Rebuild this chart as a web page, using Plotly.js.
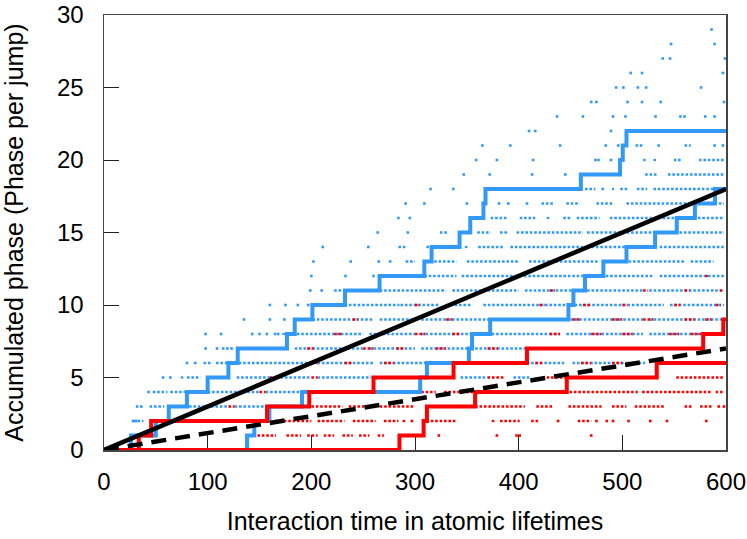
<!DOCTYPE html>
<html><head><meta charset="utf-8">
<script src="https://cdn.plot.ly/plotly-3.0.1.min.js"></script>
<style>body{margin:0;background:#fff}#chart{width:747px;height:539px}</style>
</head><body><div id="chart"></div>
<script>
// ---- scattered sample points: per phase level (index = level), runs are [start,end,...] pairs, pts are single x ----
const blueRuns = [
  [],
  [28,33],
  [28,38],
  [44,58, 82,120, 126,157],
  [47,61, 64,78, 100,150, 156,190],
  [74,78, 80,93, 128,160, 166,200, 206,258, 344,370, 395,411],
  [96,104, 108,120, 130,200, 206,260, 266,311, 412,444, 452,522],
  [184,250, 256,300, 306,351, 358,406],
  [172,176, 186,250, 256,300, 306,354, 374,440, 446,520, 526,598],
  [201,260, 266,300, 306,372, 450,520, 526,598],
  [232,285, 286,324, 334,355, 366,446, 454,540, 546,598],
  [222,232, 266,330, 336,400, 406,452, 466,520, 526,598],
  [275,340, 345,400, 405,462, 484,530, 536,598],
  [291,300, 310,340, 350,400, 410,478, 506,560, 566,588],
  [284,292, 311,316, 348,351, 361,386, 392,462, 466,503, 536,598],
  [324,331, 360,373, 382,389, 398,462, 466,598],
  [373,389, 401,416, 427,430, 443,450, 456,478, 488,598],
  [422,434, 446,459, 475,491, 504,598],
  [464,474, 490,492, 498,506, 514,524, 530,588],
  [522,534, 544,598],
  [520,524, 530,534, 574,598],
  [560,566],
  [], [], [], [], [], [], [], []
];
const bluePts = [
  [],
  [29],
  [28, 31],
  [32, 36],
  [43],
  [57, 64],
  [80, 88],
  [98, 109, 115, 119, 123],
  [98, 113, 143, 150, 157, 165, 168],
  [135, 160, 174],
  [160, 175, 187, 197],
  [199, 210],
  [200, 233, 260],
  [202, 238, 265, 276],
  [211, 255],
  [264, 293, 343],
  [284, 295],
  [291, 309, 350, 381, 390, 408],
  [315, 337, 481],
  [347, 372, 413, 445],
  [359, 379, 414, 474, 477, 489, 551, 555],
  [365, 392, 440, 484, 496, 514, 518, 535, 589, 597],
  [410, 416, 489],
  [437, 462, 491, 503, 532, 556, 560, 580, 589],
  [470, 475, 505, 519, 537, 598],
  [494, 501, 515, 523, 576],
  [508, 519, 597],
  [539, 546, 599],
  [547, 589],
  [586]
];
const redRuns = [
  [],
  [148,166, 176,190, 196,206, 212,222, 230,240, 246,256, 264,270],
  [165,200, 206,232, 240,262, 270,284, 288,292, 311,339, 374,377, 382,401, 412,419, 457,470],
  [120,126, 200,230, 236,260, 266,300, 358,406, 417,434, 448,480, 490,504, 512,541, 560,567, 575,586],
  [150,156, 306,320, 328,356, 449,515, 519,585, 590,598],
  [160,166, 200,206, 370,387, 427,446, 552,598],
  [200,206, 232,240, 270,280, 416,424, 460,470, 490,500, 505,515],
  [196,202, 250,260, 282,290, 320,330, 370,380],
  [222,230, 300,310, 336,344, 430,440, 470,480, 500,510, 545,555, 566,576, 586,596],
  [240,245, 330,336, 452,460, 490,500, 520,530, 560,570, 580,586],
  [300,305, 420,425, 462,470, 500,505, 550,556, 590,595],
  [430,435, 520,525, 560,565, 594,598],
  [580,584]
];
const redPts = [
  [],
  [323, 379, 398, 401, 470],
  [297, 438, 475, 485, 491, 506, 527, 543, 581],
  [593, 598],
  [], [], [], [], [], [], [], [], []
];

// ---- single trajectories (jump times and phase levels) ----
const blueAx = [0, 26, 50, 62.5, 80, 100, 120, 129, 176.5, 184, 201, 232.5, 265.8, 309, 316, 343, 353.3, 366, 368, 460, 497.8, 500.4, 504, 600];
const blueAy = [0, 1, 2, 3, 4, 5, 6, 7, 8, 9, 10, 11, 12, 13, 14, 15, 16, 17, 18, 19, 20, 21, 22, 22];
const blueBx = [0, 138, 145, 159.5, 191, 305, 311.5, 352, 355, 372.5, 448, 452.8, 464, 481.7, 504, 531.6, 552.5, 570, 589.4, 600];
const blueBy = [0, 1, 2, 3, 4, 5, 6, 7, 8, 9, 10, 11, 12, 13, 14, 15, 16, 17, 18, 18];
const redAx = [0, 33.6, 45.5, 157.3, 198, 260, 337.2, 408, 578, 597.4, 600];
const redAy = [0, 1, 2, 3, 4, 5, 6, 7, 8, 9, 9];
const redBx = [0, 285, 308.3, 311.5, 358, 446.4, 533.2, 600];
const redBy = [0, 1, 2, 3, 4, 5, 6, 6];

// ---- mean curves ----
const meanX = [0, 600];
const meanBlue = [0, 18];
const meanRed = [0, 7];

const xTicks = [0, 100, 200, 300, 400, 500, 600];
const yTicks = [0, 5, 10, 15, 20, 25, 30];

const BLUE = '#3399f8';
const RED = '#ff0000';

function runsTrace(runs, color) {
  const x = [], y = [];
  runs.forEach((r, lvl) => {
    for (let i = 0; i + 1 < r.length; i += 2) {
      x.push(r[i], r[i + 1], null);
      y.push(lvl, lvl, null);
    }
  });
  return {x, y, type: 'scatter', mode: 'lines', hoverinfo: 'skip',
    line: {color, width: 2.3, dash: '2.6px,1.8px'}};
}
function ptsTrace(pts, color) {
  const x = [], y = [];
  pts.forEach((p, lvl) => p.forEach(v => { x.push(v); y.push(lvl); }));
  return {x, y, type: 'scatter', mode: 'markers', hoverinfo: 'skip',
    marker: {color, size: 2.6, symbol: 'square', line: {width: 0}}};
}
function stepTrace(x, y, color) {
  return {x, y, type: 'scatter', mode: 'lines', line: {color, width: 4, shape: 'hv'}};
}

const data = [
  runsTrace(blueRuns, BLUE),
  ptsTrace(bluePts, BLUE),
  runsTrace(redRuns, RED),
  ptsTrace(redPts, RED),
  stepTrace(blueAx, blueAy, BLUE),
  stepTrace(blueBx, blueBy, BLUE),
  stepTrace(redAx, redAy, RED),
  stepTrace(redBx, redBy, RED),
  {x: meanX, y: meanBlue, type: 'scatter', mode: 'lines', line: {color: '#000', width: 4.5}},
  {x: meanX, y: meanRed, type: 'scatter', mode: 'lines', line: {color: '#000', width: 4.5, dash: '15px,9px'}}
];

const axisCommon = {
  showgrid: false, zeroline: false, showline: true, mirror: true,
  linecolor: '#444', linewidth: 1.5,
  ticks: 'inside', ticklen: 15, tickwidth: 1, tickcolor: '#222',
  tickfont: {size: 24, color: '#000'}, layer: 'below traces'
};

const layout = {
  width: 747, height: 539,
  margin: {l: 103.5, r: 21, t: 14.5, b: 89},
  paper_bgcolor: '#fff', plot_bgcolor: '#fff',
  showlegend: false,
  font: {family: 'Liberation Sans, Arial, sans-serif', color: '#000', size: 24},
  xaxis: Object.assign({}, axisCommon, {
    range: [0, 600], tickvals: xTicks, ticktext: xTicks.map(String),
    ticklabelstandoff: 10,
    title: {text: 'Interaction time in atomic lifetimes', font: {size: 25}, standoff: 18}
  }),
  yaxis: Object.assign({}, axisCommon, {
    range: [0, 30], tickvals: yTicks, ticktext: yTicks.map(String),
    ticklabelstandoff: 14,
    title: {text: 'Accumulated phase (Phase per jump)', font: {size: 25}, standoff: 28}
  })
};

Plotly.newPlot('chart', data, layout, {staticPlot: true, displayModeBar: false});
</script></body></html>
